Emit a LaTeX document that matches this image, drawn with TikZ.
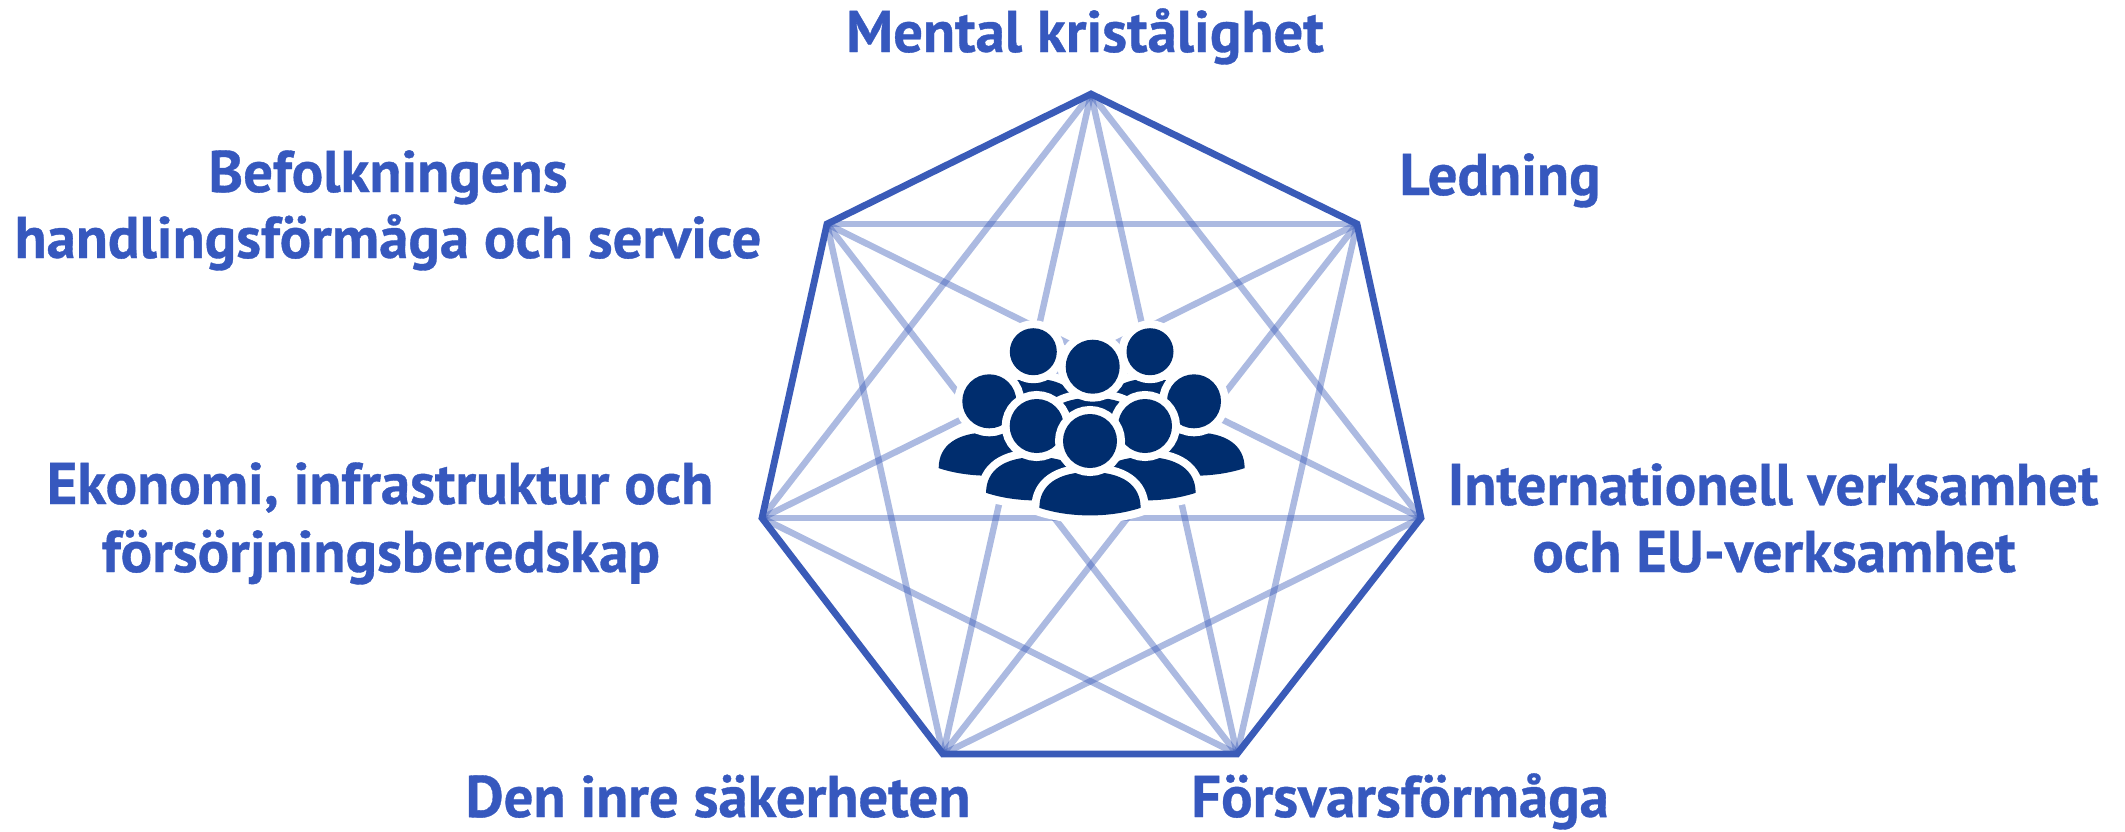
\documentclass[tikz,border=0pt]{standalone}
\usepackage{fontspec}
\setmainfont{PT Sans}[BoldFeatures={FakeBold=0.6}]
\definecolor{edgeblue}{HTML}{3A5BB8}
\definecolor{textblue}{HTML}{3658BE}
\definecolor{iconblue}{HTML}{002D6E}
\tikzset{
  outer/.style={draw=edgeblue,line width=3.4pt,line join=miter},
  chord/.style={draw=edgeblue,opacity=.42,line width=3.2pt},
  lab/.style={text=textblue,font=\bfseries\fontsize{29.4}{33}\selectfont,align=center,inner sep=0pt},
  figfill/.style={fill=iconblue,preaction={draw=white,line width=8pt}}
}
% person: head x, head y, head radius (pixels of the reference)
\newcommand{\personfig}[3]{%
  \begin{scope}[shift={(#1,#2)},x=#3*0.5pt/80,y=-#3*0.5pt/80]
    \path[figfill] (-150,198) .. controls (-150,130) and (-95,92) .. (0,92)
       .. controls (95,92) and (150,130) .. (150,198)
       .. controls (60,228) and (-60,228) .. cycle;
    \path[figfill] (0,0) circle (80);
  \end{scope}}
\begin{document}
\begin{tikzpicture}[x=0.5pt,y=-0.5pt]
\useasboundingbox (0,0) rectangle (2125,831);
\coordinate (v1) at (1091,94);
\coordinate (v2) at (1357,224);
\coordinate (v3) at (1421,518);
\coordinate (v4) at (1237,754);
\coordinate (v5) at (943,754);
\coordinate (v6) at (762,518);
\coordinate (v7) at (827,224);
\foreach \a/\b in {v1/v3,v1/v4,v1/v5,v1/v6,v2/v4,v2/v5,v2/v6,v2/v7,v3/v5,v3/v6,v3/v7,v4/v6,v4/v7,v5/v7}
  \path[chord] (\a) -- (\b);
\path[outer] (v1) -- (v2) -- (v3) -- (v4) -- (v5) -- (v6) -- (v7) -- cycle;
\personfig{1033.3}{351.7}{23.5}
\personfig{1150}{351.7}{23.5}
\personfig{1092.7}{366.7}{27}
\personfig{989.3}{401.3}{27}
\personfig{1194}{401.3}{27}
\personfig{1036.7}{426}{27}
\personfig{1145}{426}{27}
\personfig{1090}{441}{27}
\node[lab,anchor=base] (n1) at (1085,52) {Mental kristålighet};
\node[lab,anchor=base] (n2) at (1500,195) {Ledning};
\node[lab,anchor=base] (n3a) at (1773,505) {Internationell verksamhet};
\node[lab,anchor=base] (n3b) at (1774,572) {och EU-verksamhet};
\node[lab,anchor=base] (n4) at (1400,817) {Försvarsförmåga};
\node[lab,anchor=base] (n5) at (718,817) {Den inre säkerheten};
\node[lab,anchor=base] (n6a) at (380,504) {Ekonomi, infrastruktur och};
\node[lab,anchor=base] (n6b) at (381,572) {försörjningsberedskap};
\node[lab,anchor=base] (n7a) at (388,192) {Befolkningens};
\node[lab,anchor=base] (n7b) at (388,258) {handlingsförmåga och service};
\end{tikzpicture}
\end{document}
